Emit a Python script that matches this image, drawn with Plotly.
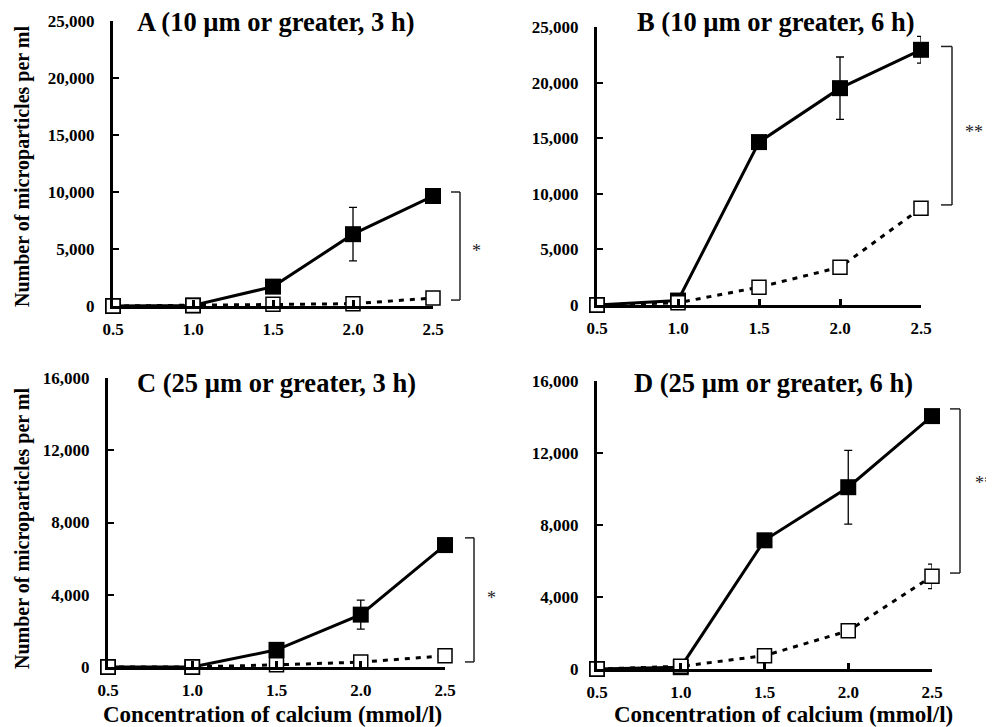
import plotly.graph_objects as go

W, H = 994, 727
OFF = 8  # page body margin offset in the rendered screenshot
FONT = "Liberation Serif"

calcium = [0.5, 1.0, 1.5, 2.0, 2.5]
x_tick_vals = [0.5, 1.0, 1.5, 2.0, 2.5]
y_ticks_10um = [0, 5000, 10000, 15000, 20000, 25000]
y_ticks_25um = [0, 4000, 8000, 12000, 16000]

# Panel A (10 um or greater, 3 h)
a_filled = [0, 50, 1700, 6300, 9650]
a_filled_err = [0, 0, 0, 2350, 0]
a_open = [0, 50, 150, 200, 700]
a_open_err = [0, 0, 0, 0, 0]
# Panel B (10 um or greater, 6 h)
b_filled = [0, 400, 14650, 19500, 22950]
b_filled_err = [0, 0, 0, 2800, 1200]
b_open = [0, 200, 1600, 3400, 8700]
b_open_err = [0, 0, 0, 0, 0]
# Panel C (25 um or greater, 3 h)
c_filled = [0, 0, 950, 2900, 6750]
c_filled_err = [0, 0, 0, 800, 380]
c_open = [0, 0, 120, 270, 620]
c_open_err = [0, 0, 0, 0, 0]
# Panel D (25 um or greater, 6 h)
d_filled = [0, 100, 7150, 10100, 14050]
d_filled_err = [0, 0, 0, 2050, 0]
d_open = [0, 150, 740, 2120, 5150]
d_open_err = [0, 0, 0, 0, 680]

titles = ["A (10 µm or greater, 3 h)", "B (10 µm or greater, 6 h)",
          "C (25 µm or greater, 3 h)", "D (25 µm or greater, 6 h)"]
signif = ["*", "**", "*", "**"]
bracket_top = [10000, 23250, 7150, 14450]
bracket_bottom = [520, 9000, 280, 5330]


def fx(X):
    return (X - OFF) / W


def fy(Y):
    return 1 - (Y - OFF) / H


panels = [
    dict(filled=a_filled, ferr=a_filled_err, open=a_open, oerr=a_open_err,
         yr=25000, yt=y_ticks_10um, px=(113, 433), py=(21, 306),
         title_xy=(135, 22), br_x=(451, 460), star_xy=(470, 251)),
    dict(filled=b_filled, ferr=b_filled_err, open=b_open, oerr=b_open_err,
         yr=25000, yt=y_ticks_10um, px=(597, 921), py=(27, 305),
         title_xy=(635, 22), br_x=(941, 952), star_xy=(963, 132)),
    dict(filled=c_filled, ferr=c_filled_err, open=c_open, oerr=c_open_err,
         yr=16000, yt=y_ticks_25um, px=(108, 445), py=(378, 667),
         title_xy=(135, 383), br_x=(465, 474), star_xy=(485, 598)),
    dict(filled=d_filled, ferr=d_filled_err, open=d_open, oerr=d_open_err,
         yr=16000, yt=y_ticks_25um, px=(597, 932), py=(381, 669),
         title_xy=(632, 383), br_x=(950, 960), star_xy=(973, 483)),
]

fig = go.Figure()
layout = dict(width=W, height=H,
              margin=dict(l=0, r=0, t=0, b=0, pad=0, autoexpand=False),
              paper_bgcolor="white", plot_bgcolor="white", showlegend=False,
              font=dict(family=FONT, color="black"))
shapes = []
annotations = []

for i, p in enumerate(panels):
    n = i + 1
    xa = "x" if n == 1 else f"x{n}"
    ya = "y" if n == 1 else f"y{n}"
    xkey = "xaxis" if n == 1 else f"xaxis{n}"
    ykey = "yaxis" if n == 1 else f"yaxis{n}"

    fig.add_trace(go.Scatter(
        x=calcium, y=p["filled"], xaxis=xa, yaxis=ya, mode="lines+markers",
        line=dict(color="black", width=3),
        marker=dict(symbol="square", size=16, color="black"),
        error_y=dict(type="data", array=p["ferr"], visible=True,
                     color="black", thickness=1.3, width=4),
        cliponaxis=False))
    fig.add_trace(go.Scatter(
        x=calcium, y=p["open"], xaxis=xa, yaxis=ya, mode="lines+markers",
        line=dict(color="black", width=3, dash="5px,6px"),
        marker=dict(symbol="square", size=14, color="white",
                    line=dict(color="black", width=1.5)),
        error_y=dict(type="data", array=p["oerr"], visible=True,
                     color="black", thickness=1.3, width=4),
        cliponaxis=False))

    x0, x1 = p["px"]
    yt, yb = p["py"]
    layout[xkey] = dict(domain=[fx(x0), fx(x1)], anchor=ya, range=[0.5, 2.5],
                        tickvals=x_tick_vals, tickformat=".1f",
                        showline=True, linecolor="black", linewidth=3,
                        ticks="inside", ticklen=6, tickwidth=3, tickcolor="black",
                        showgrid=False, zeroline=False, ticklabelstandoff=6,
                        automargin=False,
                        tickfont=dict(family=FONT, size=17, color="black", weight="bold"))
    layout[ykey] = dict(domain=[fy(yb), fy(yt)], anchor=xa, range=[0, p["yr"]],
                        tickvals=p["yt"], tickformat=",d",
                        showline=True, linecolor="black", linewidth=3,
                        ticks="inside", ticklen=6, tickwidth=2, tickcolor="black",
                        showgrid=False, zeroline=False, ticklabelstandoff=12,
                        automargin=False,
                        tickfont=dict(family=FONT, size=17, color="black", weight="bold"))

    # significance bracket
    bx0, bx1 = p["br_x"]
    for yv in (bracket_top[i], bracket_bottom[i]):
        shapes.append(dict(type="line", xref="paper", yref=ya,
                           x0=fx(bx0), x1=fx(bx1), y0=yv, y1=yv,
                           line=dict(color="#222", width=1.5)))
    shapes.append(dict(type="line", xref="paper", yref=ya,
                       x0=fx(bx1), x1=fx(bx1), y0=bracket_bottom[i], y1=bracket_top[i],
                       line=dict(color="#222", width=1.5)))
    sx, sy = p["star_xy"]
    annotations.append(dict(text=signif[i], x=fx(sx), y=fy(sy), xref="paper", yref="paper",
                            xanchor="left", yanchor="middle", showarrow=False,
                            font=dict(family=FONT, size=18, color="#222")))
    tx, ty = p["title_xy"]
    annotations.append(dict(text=titles[i], x=fx(tx), y=fy(ty), xref="paper", yref="paper",
                            xanchor="left", yanchor="middle", showarrow=False,
                            font=dict(family=FONT, size=26.5, color="black", weight="bold")))

# axis titles
ytitle = "Number of microparticles per ml"
xtitle = "Concentration of calcium (mmol/l)"
for cy in (167, 529):
    annotations.append(dict(text=ytitle, x=fx(22), y=fy(cy), xref="paper", yref="paper",
                            textangle=-90, xanchor="center", yanchor="middle", showarrow=False,
                            font=dict(family=FONT, size=20, color="black", weight="bold")))
for cx in (272, 783):
    annotations.append(dict(text=xtitle, x=fx(cx), y=fy(714), xref="paper", yref="paper",
                            xanchor="center", yanchor="middle", showarrow=False,
                            font=dict(family=FONT, size=23, color="black", weight="bold")))

layout["shapes"] = shapes
layout["annotations"] = annotations
fig.update_layout(**layout)
fig.write_html("out.html")
